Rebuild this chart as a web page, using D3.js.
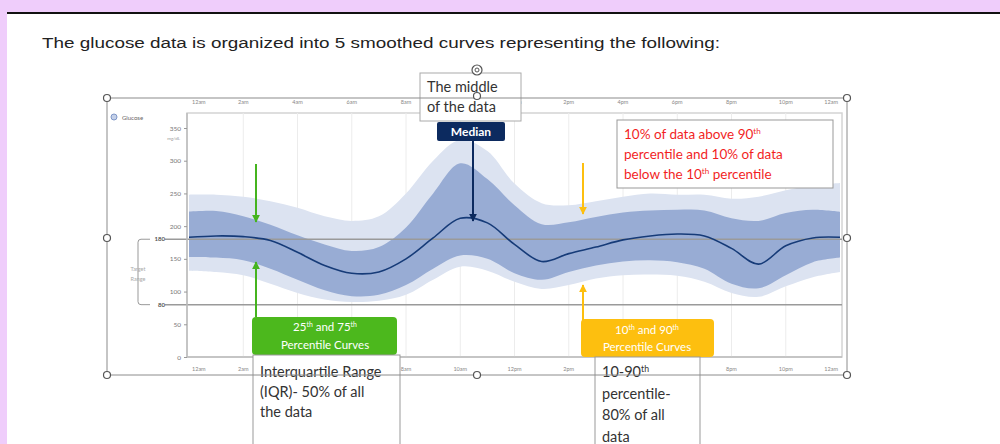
<!DOCTYPE html>
<html>
<head>
<meta charset="utf-8">
<script src="https://cdn.jsdelivr.net/npm/d3@7"></script>
<style>
  body { margin: 0; background: #fff; }
  svg { display: block; }
</style>
</head>
<body>
<svg id="chart" width="1000" height="444"></svg>
<script>
// hour of day (0 = midnight) and glucose percentiles in mg/dL
const hours = d3.range(0, 25);
const p10 = [132,130,125,112,98,88,84,86,95,118,138,132,115,104,110,120,125,126,124,115,98,92,108,122,130];
const p25 = [153,152,148,135,118,102,93,95,110,135,155,150,128,118,130,140,146,148,145,135,112,105,125,145,152];
const p50 = [183,185,184,178,160,140,128,130,150,182,212,205,172,146,158,168,179,185,188,185,166,142,170,182,183];
const p75 = [222,223,215,202,186,172,162,168,198,250,296,272,232,203,206,214,221,224,225,224,212,208,220,225,222];
const p90 = [248,248,245,238,228,215,208,215,250,300,332,315,265,235,232,238,245,250,248,248,242,245,255,262,266];
const yTicks = [0, 50, 100, 150, 200, 250, 300, 350];
const targetRange = [80, 180];
const timeLabels = ["12am","2am","4am","6am","8am","10am","12pm","2pm","4pm","6pm","8pm","10pm","12am"];

const svg = d3.select("#chart");
const font = "Lato, 'Open Sans', sans-serif";

// page background: lavender edge and black rule
svg.append("rect").attr("x", 0).attr("y", 0).attr("width", 1000).attr("height", 13).attr("fill", "#efcdfb");
svg.append("rect").attr("x", 0).attr("y", 0).attr("width", 7).attr("height", 444).attr("fill", "#efcdfb");
svg.append("rect").attr("x", 7).attr("y", 12).attr("width", 993).attr("height", 2).attr("fill", "#111");

svg.append("text")
  .attr("x", 42).attr("y", 48)
  .attr("font-family", "'Liberation Sans', Arial, sans-serif")
  .attr("font-size", 15.5)
  .attr("fill", "#222")
  .attr("textLength", 678).attr("lengthAdjust", "spacingAndGlyphs")
  .text("The glucose data is organized into 5 smoothed curves representing the following:");

// plot area
const plot = {left: 187, right: 842, top: 113, bottom: 357};
const x = d3.scaleLinear().domain([0, 24]).range([189, 840]);
const y = d3.scaleLinear().domain([0, 350]).range([plot.bottom, 128]);

const g = svg.append("g");

// light frame
g.append("rect")
  .attr("x", plot.left).attr("y", plot.top)
  .attr("width", plot.right - plot.left).attr("height", plot.bottom - plot.top)
  .attr("fill", "none").attr("stroke", "#d4d4d4").attr("stroke-width", 1.5);

// vertical grid
g.selectAll(".vgrid")
  .data(d3.range(2, 24, 2))
  .join("line")
  .attr("x1", d => x(d)).attr("x2", d => x(d))
  .attr("y1", plot.top).attr("y2", plot.bottom)
  .attr("stroke", "#ececec").attr("stroke-width", 1);

const rows = hours.map((h, i) => ({h: h, p10: p10[i], p25: p25[i], p50: p50[i], p75: p75[i], p90: p90[i]}));
const curve = d3.curveCatmullRom.alpha(0.5);

g.append("path")
  .datum(rows)
  .attr("fill", "#dce3f1")
  .attr("d", d3.area().curve(curve).x(d => x(d.h)).y0(d => y(d.p10)).y1(d => y(d.p90)));

g.append("path")
  .datum(rows)
  .attr("fill", "#98acd4")
  .attr("d", d3.area().curve(curve).x(d => x(d.h)).y0(d => y(d.p25)).y1(d => y(d.p75)));

// target range lines
g.selectAll(".target")
  .data(targetRange)
  .join("line")
  .attr("x1", 165).attr("x2", plot.right)
  .attr("y1", d => y(d)).attr("y2", d => y(d))
  .attr("stroke", "#9a9a9a").attr("stroke-width", 1.5);

g.append("path")
  .datum(rows)
  .attr("fill", "none")
  .attr("stroke", "#163b78")
  .attr("stroke-width", 1.6)
  .attr("d", d3.line().curve(curve).x(d => x(d.h)).y(d => y(d.p50)));

// axes lines
g.append("line").attr("x1", plot.left).attr("x2", plot.left).attr("y1", plot.top).attr("y2", plot.bottom)
  .attr("stroke", "#bcbcbc").attr("stroke-width", 1.5);
g.append("line").attr("x1", plot.left).attr("x2", plot.right).attr("y1", plot.bottom).attr("y2", plot.bottom)
  .attr("stroke", "#bcbcbc").attr("stroke-width", 1.5);

// y axis
const yAxis = d3.axisLeft(y).tickValues(yTicks).tickSize(3).tickPadding(3);
const ya = g.append("g").attr("transform", `translate(${plot.left},0)`).call(yAxis);
ya.select(".domain").remove();
ya.selectAll("line").attr("stroke", "#999");
ya.selectAll("text").attr("font-family", font).attr("font-size", 6.5).attr("fill", "#777");

g.append("text").attr("x", 180).attr("y", 140).attr("text-anchor", "end")
  .attr("font-family", font).attr("font-size", 4.5).attr("fill", "#999").text("mg/dL");

// target bracket
const bx = 138;
g.append("path")
  .attr("d", `M${bx + 12},${y(180)} H${bx + 3} Q${bx},${y(180)} ${bx},${y(180) + 3} V${y(80) - 3} Q${bx},${y(80)} ${bx + 3},${y(80)} H${bx + 12}`)
  .attr("fill", "none").attr("stroke", "#999").attr("stroke-width", 1);
g.selectAll(".tlab")
  .data(targetRange)
  .join("text")
  .attr("x", 165).attr("y", d => y(d) + 2)
  .attr("text-anchor", "end")
  .attr("font-family", font).attr("font-size", 6).attr("font-weight", "bold").attr("fill", "#555")
  .text(d => d);
g.append("text").attr("x", bx).attr("y", 271).attr("text-anchor", "middle")
  .attr("font-family", font).attr("font-size", 5.5).attr("fill", "#aaa").text("Target");
g.append("text").attr("x", bx).attr("y", 281).attr("text-anchor", "middle")
  .attr("font-family", font).attr("font-size", 5.5).attr("fill", "#aaa").text("Range");

// legend
g.append("circle").attr("cx", 114).attr("cy", 117).attr("r", 3)
  .attr("fill", "#c4d0e8").attr("stroke", "#7f97c8").attr("stroke-width", 1);
g.append("text").attr("x", 122).attr("y", 119.5)
  .attr("font-family", font).attr("font-size", 6).attr("fill", "#666").text("Glucose");

// time labels top and bottom (those hidden under the note boxes are left out)
const timeTicks = d3.range(0, 25, 2);
const hiddenTop = [10];
const hiddenBottom = [4, 6, 16, 18];
[[104, hiddenTop], [371, hiddenBottom]].forEach(([ty, hidden]) => {
  g.selectAll(null)
    .data(timeTicks.map((d, i) => ({h: d, i: i})).filter(d => hidden.indexOf(d.h) < 0))
    .join("text")
    .attr("x", d => d.i === 0 ? x(d.h) + 3 : (d.i === timeTicks.length - 1 ? x(d.h) - 2 : x(d.h)))
    .attr("y", ty)
    .attr("text-anchor", d => d.i === 0 ? "start" : (d.i === timeTicks.length - 1 ? "end" : "middle"))
    .attr("font-family", font).attr("font-size", 5.5).attr("fill", "#888")
    .text(d => timeLabels[d.i]);
});

// ---------- annotations ----------
const defs = svg.append("defs");
function marker(id, color) {
  defs.append("marker")
    .attr("id", id).attr("viewBox", "0 0 10 10")
    .attr("refX", 9).attr("refY", 5)
    .attr("markerWidth", 4).attr("markerHeight", 4)
    .attr("orient", "auto-start-reverse")
    .append("path").attr("d", "M0,0 L10,5 L0,10 z").attr("fill", color);
}
const green = "#45b41f", orange = "#fdbf0f", navy = "#0c2a5f";
marker("ag", green); marker("ao", orange); marker("an", navy);

function arrow(x0, y0, y1, color, id) {
  svg.append("line")
    .attr("x1", x0).attr("x2", x0).attr("y1", y0).attr("y2", y1)
    .attr("stroke", color).attr("stroke-width", 2)
    .attr("marker-end", `url(#${id})`);
}
arrow(256, 164, 222, green, "ag");
arrow(256, 317, 262, green, "ag");
arrow(583, 163, 214, orange, "ao");
arrow(583, 320, 285, orange, "ao");
arrow(473, 140, 221, navy, "an");

function supText(sel, parts) {
  parts.forEach(p => {
    sel.append("tspan")
      .attr("baseline-shift", p.sup ? "super" : null)
      .attr("font-size", p.sup ? "0.6em" : null)
      .text(p.t);
  });
}

// green box
svg.append("rect").attr("x", 252).attr("y", 317).attr("width", 145).attr("height", 38).attr("rx", 4)
  .attr("fill", "#4cb81d");
let t = svg.append("text").attr("x", 325).attr("y", 331).attr("text-anchor", "middle")
  .attr("font-family", font).attr("font-size", 11.5).attr("fill", "#fff");
supText(t, [{t: "25"}, {t: "th", sup: true}, {t: " and 75"}, {t: "th", sup: true}]);
svg.append("text").attr("x", 325).attr("y", 349).attr("text-anchor", "middle")
  .attr("font-family", font).attr("font-size", 11.5).attr("fill", "#fff").text("Percentile Curves");

// orange box
svg.append("rect").attr("x", 581).attr("y", 319).attr("width", 133).attr("height", 38).attr("rx", 4)
  .attr("fill", orange);
t = svg.append("text").attr("x", 647).attr("y", 334).attr("text-anchor", "middle")
  .attr("font-family", font).attr("font-size", 11.5).attr("fill", "#fff");
supText(t, [{t: "10"}, {t: "th", sup: true}, {t: " and 90"}, {t: "th", sup: true}]);
svg.append("text").attr("x", 647).attr("y", 351).attr("text-anchor", "middle")
  .attr("font-family", font).attr("font-size", 11.5).attr("fill", "#fff").text("Percentile Curves");

// median box
svg.append("rect").attr("x", 437).attr("y", 122).attr("width", 68).attr("height", 19).attr("rx", 2)
  .attr("fill", navy);
svg.append("text").attr("x", 471).attr("y", 136).attr("text-anchor", "middle")
  .attr("font-family", font).attr("font-size", 12).attr("font-weight", "bold").attr("fill", "#fff").text("Median");

// white text boxes
function textBox(bx0, by0, bw, bh, firstY, lines, size, lh, color, stroke) {
  svg.append("rect").attr("x", bx0).attr("y", by0).attr("width", bw).attr("height", bh)
    .attr("fill", "#fff").attr("stroke", stroke).attr("stroke-width", 1);
  lines.forEach((ln, i) => {
    const tx = svg.append("text").attr("x", bx0 + 7).attr("y", by0 + firstY + i * lh)
      .attr("font-family", font).attr("font-size", size).attr("fill", color);
    supText(tx, ln);
  });
}
textBox(420, 73, 101, 48, 19, [[{t: "The middle"}], [{t: "of the data"}]], 14.5, 20, "#333", "#aaa");
textBox(617, 120, 216, 68, 19, [
  [{t: "10% of data above 90"}, {t: "th", sup: true}],
  [{t: "percentile and 10% of data"}],
  [{t: "below the 10"}, {t: "th", sup: true}, {t: " percentile"}]
], 13.5, 20, "#f21f1f", "#999");
textBox(253, 355, 147, 100, 22, [
  [{t: "Interquartile Range"}], [{t: "(IQR)- 50% of all"}], [{t: "the data"}]
], 14.5, 20, "#333", "#999");
textBox(595, 357, 105, 100, 20, [
  [{t: "10-90"}, {t: "th", sup: true}], [{t: "percentile-"}], [{t: "80% of all"}], [{t: "data"}]
], 14.5, 21.5, "#333", "#999");

// image selection frame and handles
const fr = {l: 107, r: 847, t: 98, b: 375};
svg.append("rect").attr("x", fr.l).attr("y", fr.t).attr("width", fr.r - fr.l).attr("height", fr.b - fr.t)
  .attr("fill", "none").attr("stroke", "#8c8c8c").attr("stroke-width", 1);
const midX = 477, midY = 238;
const handles = [[fr.l, fr.t], [fr.r, fr.t], [fr.l, fr.b], [fr.r, fr.b], [fr.l, midY], [fr.r, midY], [midX, fr.t - 2], [midX, fr.b]];
svg.selectAll(".handle")
  .data(handles)
  .join("circle")
  .attr("cx", d => d[0]).attr("cy", d => d[1]).attr("r", 3.5)
  .attr("fill", "#fff").attr("stroke", "#555").attr("stroke-width", 1.2);
svg.append("circle").attr("cx", midX).attr("cy", 70).attr("r", 5)
  .attr("fill", "#fff").attr("stroke", "#555").attr("stroke-width", 1.2);
svg.append("circle").attr("cx", midX).attr("cy", 70).attr("r", 2)
  .attr("fill", "none").attr("stroke", "#555").attr("stroke-width", 1);
</script>
</body>
</html>
